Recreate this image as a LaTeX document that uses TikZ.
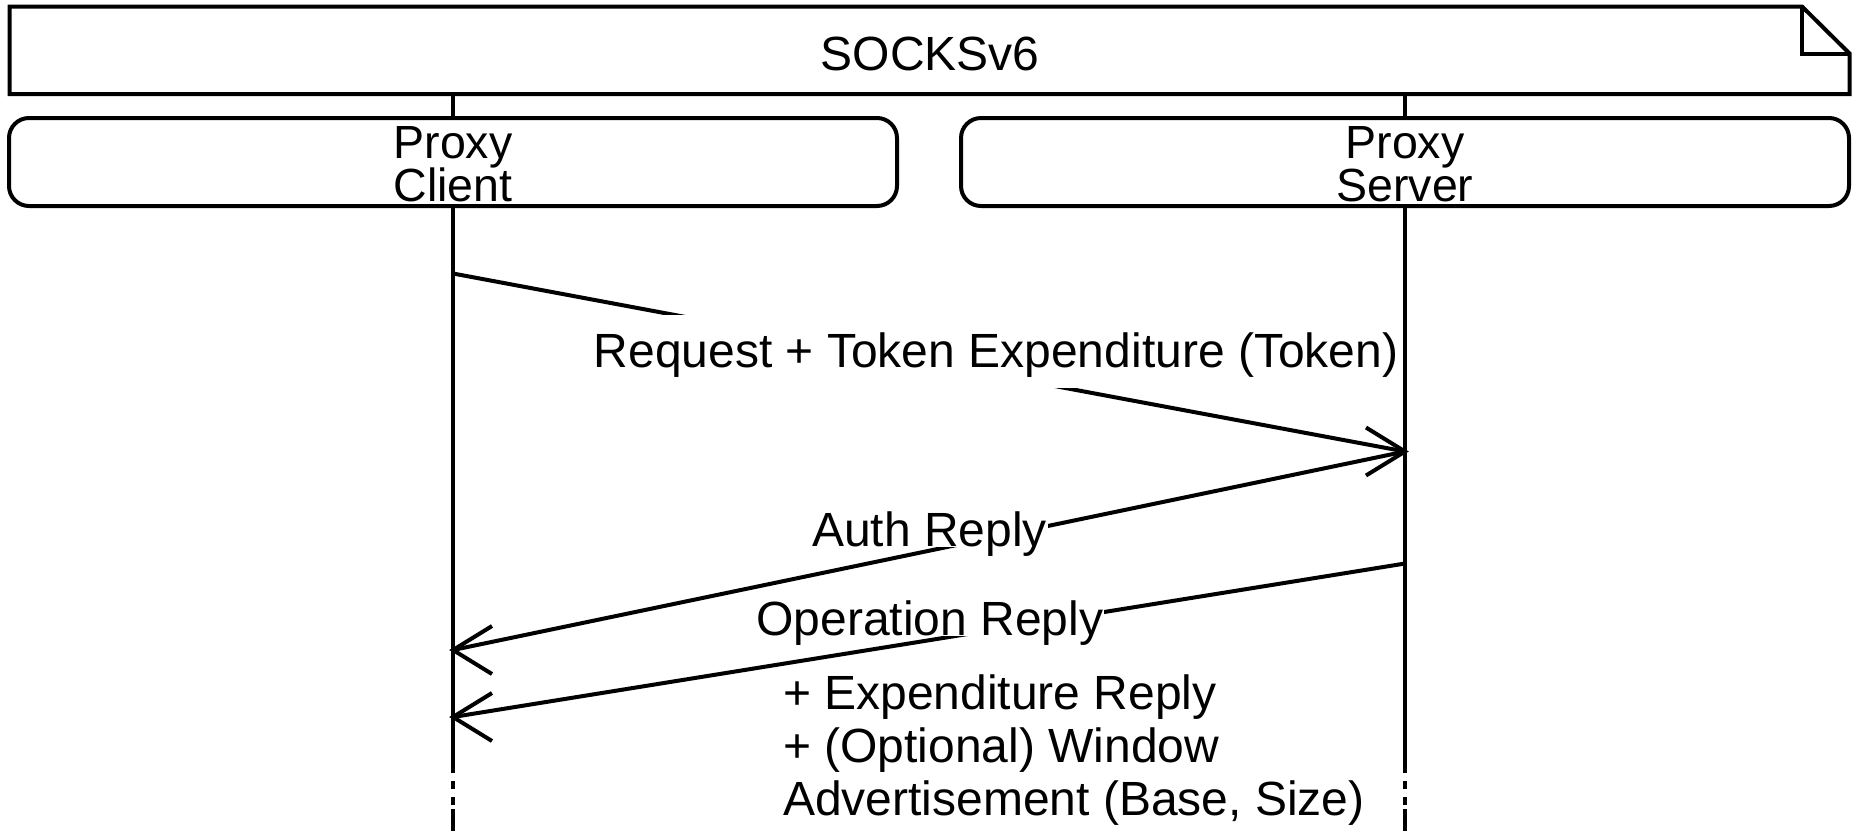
\documentclass[tikz,border=0pt]{standalone}
\usepackage{fontspec}
\setmainfont{Liberation Sans}
\begin{document}
\begin{tikzpicture}[x=1pt,y=-1pt,
  line width=4pt,
  msgfont/.style={font=\fontsize{48}{53}\selectfont},
  pbox/.style={draw, rounded corners=20pt, minimum width=888pt, minimum height=88pt,
    align=center, inner sep=0pt, font=\fontsize{46.5}{43.5}\selectfont},
  lbl/.style={msgfont, fill=white, inner xsep=1pt, inner ysep=0pt, anchor=base},
  extra/.style={msgfont, anchor=base west, inner sep=0pt},
  ]
\useasboundingbox (0,0) rectangle (1862,831);
% title frame
\draw (9.5,6.5) -- (1802,6.5) -- (1849.5,53.5) -- (1849.5,94) -- (9.5,94) -- cycle;
\draw (1802,6.5) -- (1802,53.5) -- (1849.5,53.5);
\node[msgfont, anchor=base, inner sep=0pt] (title) at (930,70.5) {SOCKSv6};
% participants
\coordinate (cTop) at (453,94);
\coordinate (sTop) at (1405,94);
\node[pbox] (cbox) at (453,162) {};
\node[pbox] (sbox) at (1405,162) {};
\node[font=\fontsize{46.5}{43.5}\selectfont, align=center, inner sep=0pt] (ctext) at (453,164) {Proxy\\Client};
\node[font=\fontsize{46.5}{43.5}\selectfont, align=center, inner sep=0pt] (stext) at (1405,164) {Proxy\\Server};
% lifelines
\draw (cTop) -- (cbox.north);
\draw (sTop) -- (sbox.north);
\draw (cbox.south) -- (453,773) (453,781) -- (453,789) (453,797) -- (453,805) (453,809) -- (453,831);
\draw (sbox.south) -- (1405,773) (1405,781) -- (1405,789) (1405,797) -- (1405,805) (1405,809) -- (1405,831);
% messages
\coordinate (m1a) at (453,273.5);
\coordinate (m1b) at (1405,451.5);
\draw (m1a) -- (m1b);
\draw (m1b) ++(-39,-24) -- (m1b) -- ++(-39,24);
\coordinate (m2a) at (1405,451.5);
\coordinate (m2b) at (453,650);
\draw (m2a) -- (m2b);
\draw (m2b) ++(39,-24) -- (m2b) -- ++(39,24);
\coordinate (m3a) at (1405,563.5);
\coordinate (m3b) at (453,717);
\draw (m3a) -- (m3b);
\draw (m3b) ++(39,-24) -- (m3b) -- ++(39,24);
% labels
\node[lbl, text height=52pt, text depth=21pt] (l1) at (996,367.3) {Request + Token Expenditure (Token)};
\node[lbl, text depth=0pt] (l2) at (929.5,546.7) {Auth Reply};
\node[lbl, text depth=0pt] (l3) at (930,635.7) {Operation Reply};
\node[extra] (l3b) at (781,709) {+ Expenditure Reply};
\node[extra] (l3c) at (781,762) {+ (Optional) Window};
\node[extra] (l3d) at (781,815) {Advertisement (Base, Size)};
\end{tikzpicture}
\end{document}
